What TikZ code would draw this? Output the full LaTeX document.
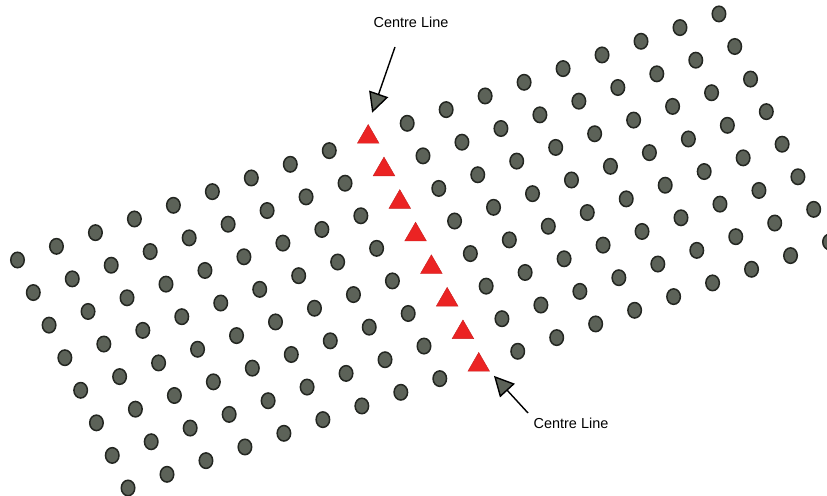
\documentclass[tikz,border=0pt]{standalone}
\usepackage{fontspec}
\setsansfont{Liberation Sans}
\usetikzlibrary{shapes.geometric,arrows.meta}
\definecolor{dotgrey}{RGB}{92,98,88}
\definecolor{dotedge}{RGB}{35,38,33}
\definecolor{markred}{RGB}{235,35,35}
\begin{document}
\begin{tikzpicture}[x=1bp, y=1bp,
    pile/.style={ellipse, draw=dotedge, line width=1.5bp, fill=dotgrey, minimum width=13.5bp, minimum height=15.5bp, inner sep=0pt},
    centre/.style={regular polygon, regular polygon sides=3, fill=markred, draw=markred!85!black, line width=0.4bp, minimum size=25bp, inner sep=0pt},
    note/.style={font=\sffamily\fontsize{14.5}{17}\selectfont, inner sep=0pt},
    pointer/.style={-{Triangle[length=20bp, width=20bp, fill=dotgrey]}, line width=1.4bp, draw=black}]
    \useasboundingbox (0,0) rectangle (827,496);

    % piles, column 9 is left free for the centre line
    \foreach \i in {0,...,18} {
        \foreach \j in {0,...,7} {
            \ifnum\i=9 \else
                \node (d-\i-\j) [pile] at ({17.5+38.97*\i+15.79*\j}, {236+13.67*\i-32.57*\j}) {};
            \fi
        }
    }

    % centre line
    \foreach \j in {0,...,7}
        \node (t-\j) [centre] at ({368.2+15.79*\j}, {359-32.57*\j}) {};

    \node (lbl-top) [note] at (411,474) {Centre Line};
    \node (lbl-bot) [note] at (571,73) {Centre Line};
    \coordinate (c-top) at (395,449);
    \coordinate (c-bot) at (528,83);

    \draw [pointer, shorten >=12bp] (c-top) -- (t-0.north);
    \draw [pointer, shorten >=6bp] (c-bot) -- (t-7.corner 3);
\end{tikzpicture}
\end{document}
